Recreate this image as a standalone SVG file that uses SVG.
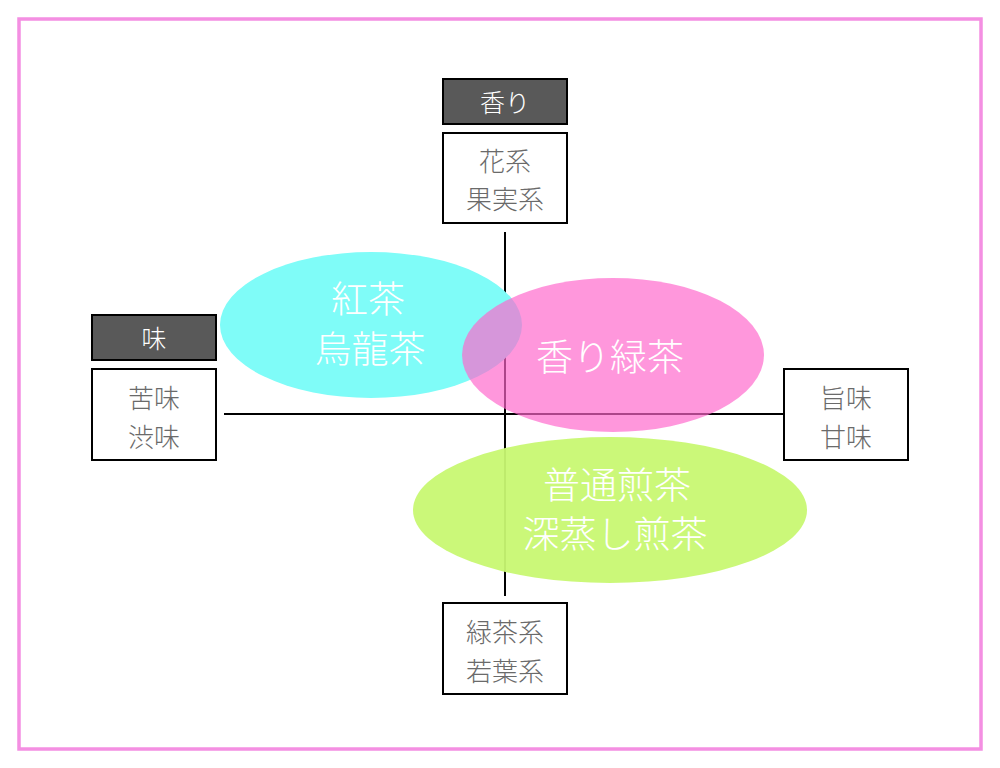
<svg xmlns="http://www.w3.org/2000/svg" width="1000" height="768" viewBox="0 0 1000 768">
<style>
.box{fill:#ffffff;stroke:#000000;stroke-width:2}
.hdr{fill:#595959;stroke:#000000;stroke-width:2}
.t{font-family:"Noto Sans CJK JP","Noto Sans",sans-serif;font-weight:300;font-size:26px;fill:#6a6a6a;text-anchor:middle;dominant-baseline:central}
.th{font-family:"Noto Sans CJK JP","Noto Sans",sans-serif;font-weight:300;font-size:25px;fill:#ffffff;text-anchor:middle;dominant-baseline:central}
.big{font-family:"Noto Sans CJK JP","Noto Sans",sans-serif;font-weight:300;font-size:37px;fill:#ffffff;text-anchor:middle;dominant-baseline:central}
.ax{stroke:#000000;stroke-width:2;fill:none}
</style>
<rect x="0" y="0" width="1000" height="768" fill="#ffffff"/>
<rect x="19" y="19" width="962" height="730" fill="none" stroke="#f48fe2" stroke-width="3.5"/>
<g id="connectors">
<line class="ax" x1="505" y1="232" x2="505" y2="596"/>
<line class="ax" x1="224" y1="414" x2="787" y2="414"/>
</g>
<g id="blacktea">
<ellipse cx="371" cy="325" rx="151" ry="73" fill="#7ffcf8"/>
<text class="big" x="368" y="297">紅茶</text>
<text class="big" x="370" y="347">烏龍茶</text>
</g>
<g id="sencha">
<ellipse cx="610" cy="510" rx="197" ry="73" fill="#c8f872" fill-opacity="0.95"/>
<text class="big" x="617" y="483">普通煎茶</text>
<text class="big" x="615" y="532">深蒸し煎茶</text>
</g>
<g id="kaori">
<ellipse cx="613" cy="355" rx="151" ry="77" fill="#ff66cc" fill-opacity="0.68"/>
<text class="big" x="610" y="355">香り緑茶</text>
</g>
<g id="hdr-kaori">
<rect class="hdr" x="443" y="79" width="124" height="45"/>
<text class="th" x="505" y="101">香り</text>
</g>
<g id="top">
<rect class="box" x="443" y="133" width="124" height="90"/>
<text class="t" x="505" y="159">花系</text>
<text class="t" x="505" y="197">果実系</text>
</g>
<g id="hdr-aji">
<rect class="hdr" x="92" y="315" width="124" height="45"/>
<text class="th" x="154" y="337">味</text>
</g>
<g id="left">
<rect class="box" x="92" y="369" width="124" height="91"/>
<text class="t" x="154" y="396">苦味</text>
<text class="t" x="154" y="435">渋味</text>
</g>
<g id="right">
<rect class="box" x="784" y="369" width="124" height="91"/>
<text class="t" x="846" y="396">旨味</text>
<text class="t" x="846" y="435">甘味</text>
</g>
<g id="bottom">
<rect class="box" x="443" y="603" width="124" height="91"/>
<text class="t" x="505" y="630">緑茶系</text>
<text class="t" x="505" y="669">若葉系</text>
</g>
</svg>
